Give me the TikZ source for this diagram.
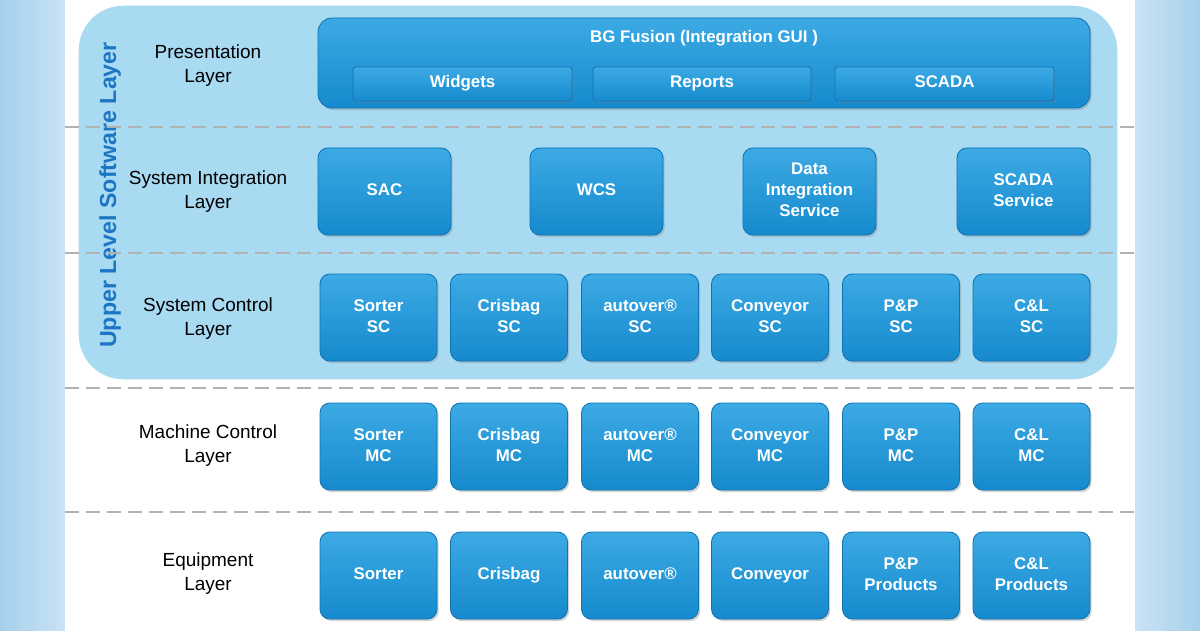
\documentclass[tikz,border=0pt]{standalone}
\usepackage{fontspec}
\setmainfont{Liberation Sans}
\usetikzlibrary{shadows}
\definecolor{side}{RGB}{165,208,236}
\definecolor{upper}{RGB}{168,218,242}
\definecolor{boxtop}{RGB}{60,170,228}
\definecolor{boxbot}{RGB}{22,138,205}
\definecolor{boxedge}{RGB}{15,115,180}
\definecolor{vlab}{RGB}{28,118,196}
\begin{document}
\begin{tikzpicture}[x=0.025cm,y=-0.025cm,
  box/.style={draw=boxedge,line width=0.6pt,rounded corners=7pt,top color=boxtop,bottom color=boxbot,
    text=white,font=\fontsize{12}{15}\selectfont\bfseries,align=center,inner sep=0pt,
    drop shadow={shadow xshift=1.2pt,shadow yshift=-1.5pt,opacity=0.35}},
  sub/.style={draw=boxedge,line width=0.6pt,rounded corners=2pt,top color=boxtop,bottom color=boxbot,
    text=white,font=\fontsize{12}{13.5}\selectfont\bfseries,inner sep=0pt,
    drop shadow={shadow xshift=1pt,shadow yshift=-1.2pt,opacity=0.35}},
  lab/.style={font=\fontsize{13.5}{17}\selectfont,align=center,text=black},
  sep/.style={draw=gray!60,line width=1.3pt,dash pattern=on 10pt off 5pt}]
\useasboundingbox (0,0) rectangle (1200,630);
\fill[left color=side,right color=side!60!white] (0,0) rectangle (65,630);
\fill[left color=side!60!white,right color=side] (1135,0) rectangle (1200,630);
\fill[white] (65,0) rectangle (1135,630);
\node[draw=white,line width=1pt,fill=upper,rounded corners=32pt,minimum width=1040*0.025cm,minimum height=375*0.025cm,inner sep=0pt] (upper) at (598,192.5) {};
\node[rotate=90,text=vlab,font=\fontsize{16.5}{18}\selectfont\bfseries] (ul) at (110,195) {Upper Level Software Layer};
\foreach \y/\n in {127/s1,253/s2,388/s3,512/s4}{
  \coordinate (\n a) at (65,\y); \coordinate (\n b) at (1135,\y);
  \draw[sep] (\n a) -- (\n b);}
\node[lab] (lp) at (208,66) {Presentation\\Layer};
\node[lab] (li) at (208,192) {System Integration\\Layer};
\node[lab] (lc) at (208,319) {System Control\\Layer};
\node[lab] (lm) at (208,446) {Machine Control\\Layer};
\node[lab] (le) at (208,574) {Equipment\\Layer};
\node[box,rounded corners=10pt,minimum width=772*0.025cm,minimum height=90*0.025cm] (bg) at (704,63) {};
\node[text=white,font=\fontsize{12}{13.5}\selectfont\bfseries] (bgt) at (704,38) {BG Fusion (Integration GUI )};
\node[sub,minimum width=219*0.025cm,minimum height=34*0.025cm] (w) at (462.5,84) {\strut Widgets};
\node[sub,minimum width=218*0.025cm,minimum height=34*0.025cm] (r) at (702,84) {\strut Reports};
\node[sub,minimum width=219*0.025cm,minimum height=34*0.025cm] (sc) at (944.5,84) {\strut SCADA};
\foreach \x/\t/\n in {384.5/\strut SAC/sac,596.5/\strut WCS/wcs,809.5/{\strut Data\\\strut Integration\\\strut Service}/dis,1023.5/{\strut SCADA\\\strut Service}/scs}
  \node[box,minimum width=133*0.025cm,minimum height=87*0.025cm] (\n) at (\x,191.5) {\t};
\foreach \x/\a/\n in {378.5/Sorter/a,509/Crisbag/b,640/autover®/c,770/Conveyor/d,901/P\&P/e,1031.5/C\&L/f}{
  \node[box,minimum width=117*0.025cm,minimum height=87*0.025cm] (sc\n) at (\x,317.5) {\strut\a\\\strut SC};
  \node[box,minimum width=117*0.025cm,minimum height=87*0.025cm] (mc\n) at (\x,446.5) {\strut\a\\\strut MC};}
\foreach \x/\t/\n in {378.5/\strut Sorter/a,509/\strut Crisbag/b,640/\strut autover®/c,770/\strut Conveyor/d,901/{\strut P\&P\\\strut Products}/e,1031.5/{\strut C\&L\\\strut Products}/f}
  \node[box,minimum width=117*0.025cm,minimum height=87*0.025cm] (eq\n) at (\x,575.5) {\t};
\end{tikzpicture}
\end{document}
